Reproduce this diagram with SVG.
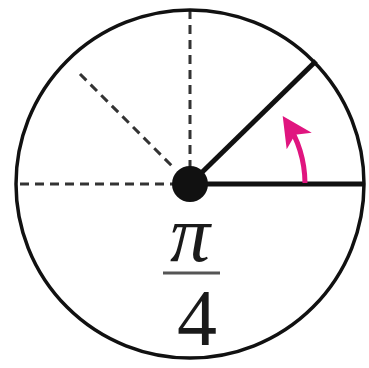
<svg xmlns="http://www.w3.org/2000/svg" width="369" height="368" viewBox="0 0 369 368">
<defs>
<style>
.dash{stroke:#333;stroke-width:3;stroke-dasharray:9 6;fill:none}
.thick{stroke:#111;stroke-width:5;fill:none;stroke-linecap:butt}
.lbl{font-family:"Liberation Serif","DejaVu Serif",serif;fill:#1a1a1a;text-anchor:middle}
</style>
<marker id="ah" viewBox="0 0 10 10" refX="8" refY="5" markerWidth="6" markerHeight="6" orient="auto" markerUnits="strokeWidth">
<path d="M0,0 L10,5 L0,10 L2.5,5 Z" fill="#e0157f"/>
</marker>
</defs>
<rect width="369" height="368" fill="#fff"/>
<g id="connectors">
<line class="dash" x1="190" y1="10" x2="190" y2="168"/>
<line class="dash" x1="20" y1="184" x2="174" y2="184"/>
<line class="dash" x1="80" y1="74" x2="172" y2="166"/>
<line class="thick" x1="190" y1="184" x2="363" y2="184"/>
<line class="thick" x1="190" y1="184" x2="316" y2="61"/>
<path d="M305,183 A115,115 0 0 0 286,121" fill="none" stroke="#e0157f" stroke-width="5" marker-end="url(#ah)"/>
</g>
<g id="circle">
<circle cx="190" cy="184" r="174" fill="none" stroke="#111" stroke-width="3.5"/>
</g>
<g id="center">
<circle cx="190" cy="184" r="18" fill="#111"/>
</g>
<g id="label">
<text class="lbl" x="190" y="261" font-size="80" font-style="italic">π</text>
<line x1="163" y1="273" x2="220" y2="273" stroke="#555" stroke-width="3"/>
<text class="lbl" x="197" y="345" font-size="80">4</text>
</g>
</svg>
